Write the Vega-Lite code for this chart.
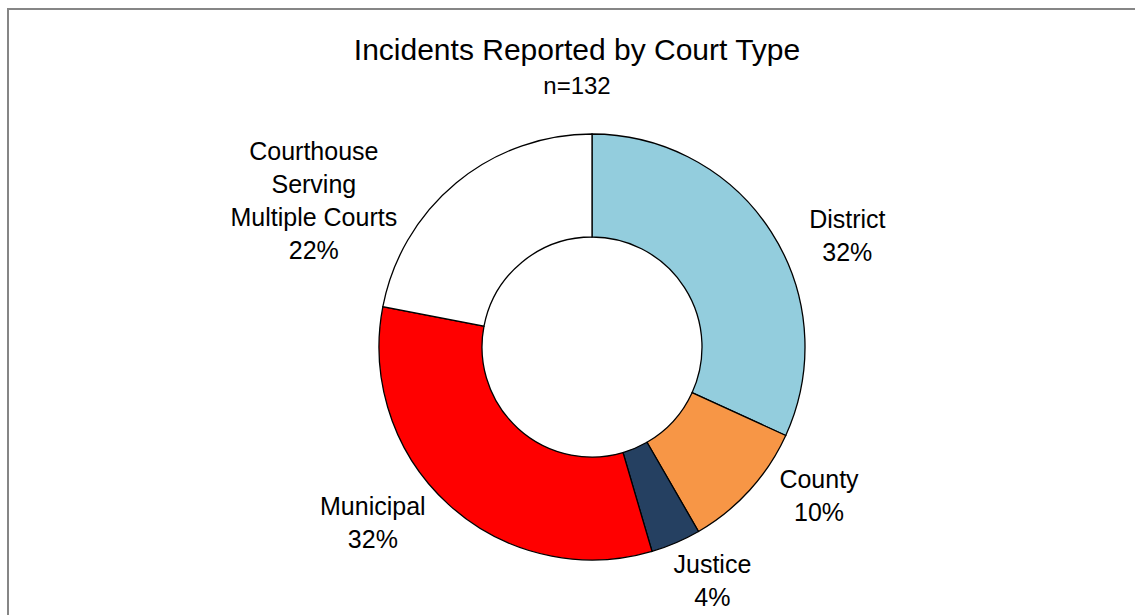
{
  "$schema": "https://vega.github.io/schema/vega-lite/v6.json",
  "width": 1135,
  "height": 615,
  "autosize": {"type": "fit", "contains": "padding"},
  "padding": {"left": 8, "top": 9, "right": -41, "bottom": -70},
  "background": "white",
  "view": {"stroke": "#868686", "strokeWidth": 2, "fill": "white"},
  "config": {
    "view": {"stroke": "#868686", "strokeWidth": 2},
    "font": "Liberation Sans"
  },
  "title": {
    "text": "Incidents Reported by Court Type",
    "subtitle": "n=132",
    "anchor": "middle",
    "frame": "group",
    "dx": -15,
    "offset": -90,
    "fontSize": 30,
    "fontWeight": "normal",
    "color": "black",
    "subtitleFontSize": 24,
    "subtitleColor": "black",
    "subtitlePadding": 9,
    "font": "Liberation Sans",
    "subtitleFont": "Liberation Sans"
  },
  "data": {
    "values": [
      {"type": "District", "count": 42, "label": "District\n32%", "ord": 1},
      {"type": "County", "count": 13, "label": "County\n10%", "ord": 2},
      {"type": "Justice", "count": 5, "label": "Justice\n4%", "ord": 3},
      {"type": "Municipal", "count": 43, "label": "Municipal\n32%", "ord": 4},
      {"type": "Courthouse Serving Multiple Courts", "count": 29, "label": "Courthouse\nServing\nMultiple Courts\n22%", "ord": 5}
    ]
  },
  "encoding": {
    "theta": {"field": "count", "type": "quantitative", "stack": true},
    "order": {"field": "ord", "type": "quantitative"}
  },
  "layer": [
    {
      "mark": {"type": "arc", "innerRadius": 110, "outerRadius": 213, "stroke": "black", "strokeWidth": 1.3},
      "encoding": {
        "color": {
          "field": "type",
          "type": "nominal",
          "scale": {
            "domain": ["District", "County", "Justice", "Municipal", "Courthouse Serving Multiple Courts"],
            "range": ["#93CDDD", "#F79646", "#254061", "#FF0000", "#FFFFFF"]
          },
          "legend": null
        }
      }
    },
    {
      "mark": {"type": "text", "radius": 250, "dx": 45, "dy": 8, "fontSize": 25, "lineHeight": 33, "lineBreak": "\n", "align": "center", "baseline": "middle", "color": "black"},
      "encoding": {"text": {"condition": {"test": "datum.type === 'District'", "field": "label"}, "value": ""}}
    },
    {
      "mark": {"type": "text", "radius": 250, "dx": 42, "dy": -35, "fontSize": 25, "lineHeight": 33, "lineBreak": "\n", "align": "center", "baseline": "middle", "color": "black"},
      "encoding": {"text": {"condition": {"test": "datum.type === 'County'", "field": "label"}, "value": ""}}
    },
    {
      "mark": {"type": "text", "radius": 250, "dx": 22, "dy": -12, "fontSize": 25, "lineHeight": 33, "lineBreak": "\n", "align": "center", "baseline": "middle", "color": "black"},
      "encoding": {"text": {"condition": {"test": "datum.type === 'Justice'", "field": "label"}, "value": ""}}
    },
    {
      "mark": {"type": "text", "radius": 250, "dx": -51, "dy": -25, "fontSize": 25, "lineHeight": 33, "lineBreak": "\n", "align": "center", "baseline": "middle", "color": "black"},
      "encoding": {"text": {"condition": {"test": "datum.type === 'Municipal'", "field": "label"}, "value": ""}}
    },
    {
      "mark": {"type": "text", "radius": 250, "dx": -119, "dy": -2, "fontSize": 25, "lineHeight": 33, "lineBreak": "\n", "align": "center", "baseline": "middle", "color": "black"},
      "encoding": {"text": {"condition": {"test": "datum.type === 'Courthouse Serving Multiple Courts'", "field": "label"}, "value": ""}}
    }
  ]
}
